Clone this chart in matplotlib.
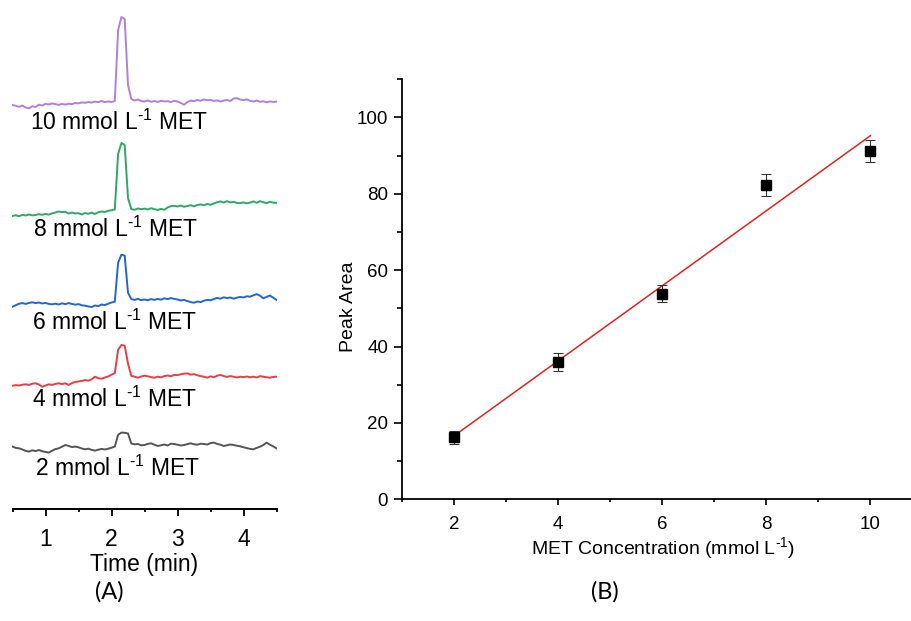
import numpy as np
import matplotlib.pyplot as plt
from matplotlib.ticker import MultipleLocator

plt.rcParams['font.family'] = 'Liberation Sans'
plt.rcParams['mathtext.fontset'] = 'custom'
plt.rcParams['mathtext.rm'] = 'Liberation Sans'
plt.rcParams['mathtext.it'] = 'Liberation Sans:italic'

# ---- (A) electropherograms, one sample every 0.05 min from 0.5 to 4.5 min ----
time_min = np.linspace(0.5, 4.5, 81)

# detector signal (a.u.)
sig_2 = [1.7, 0.4, 0.0, -1.2, -2.6, -3.3, -2.0, -2.8, -1.7, -3.0,
         -3.6, -4.3, -2.4, -0.8, 0.0, 1.6, 3.3, 2.4, 1.2, 1.7,
         1.0, -0.2, -1.0, -0.4, -1.6, -2.3, -1.4, -0.6, -1.2, -0.4,
         0.6, 1.7, 13.5, 15.7, 15.5, 14.8, 4.8, 4.0, 4.3, 3.0,
         3.3, 4.4, 5.0, 3.6, 2.3, 3.0, 3.8, 2.8, 4.6, 4.3,
         3.6, 2.8, 3.3, 4.2, 5.0, 4.0, 3.6, 4.6, 4.3, 3.8,
         5.2, 5.7, 4.4, 3.6, 2.3, 3.0, 3.8, 3.3, 2.6, 2.0,
         1.0, 0.2, -0.6, -1.0, 0.4, 1.6, 3.3, 5.7, 3.6, 2.0,
         0.0]
sig_4 = [0.0, 0.6, 0.2, 1.0, 1.4, 0.8, 2.0, 2.4, 1.2, -1.0,
         0.2, 1.4, 0.8, 1.8, 2.4, 1.6, 2.4, 0.8, 2.6, 3.8,
         4.2, 4.8, 5.6, 5.0, 6.4, 9.0, 7.4, 7.0, 8.2, 9.2,
         11.0, 12.5, 36.0, 40.7, 40.0, 22.0, 9.8, 9.0, 8.0, 9.2,
         10.0, 9.4, 8.6, 8.0, 9.0, 8.4, 9.6, 10.2, 9.4, 10.8,
         10.6, 11.4, 12.0, 12.3, 11.0, 11.6, 10.4, 9.6, 9.0, 8.0,
         9.4, 8.4, 10.0, 10.7, 9.6, 8.8, 9.6, 9.0, 8.2, 9.0,
         8.6, 9.2, 8.4, 9.0, 8.2, 9.6, 9.0, 8.4, 8.0, 8.8,
         9.0]
sig_6 = [0.0, 1.5, 3.0, 3.6, 2.8, 3.8, 4.4, 3.6, 4.2, 3.2,
         3.8, 2.8, 2.4, 3.0, 2.2, 3.4, 2.6, 3.6, 2.8, 2.0,
         2.6, 1.4, 1.0, 0.2, -0.3, 1.2, 0.6, 2.2, 1.6, 3.0,
         4.2, 5.0, 44.0, 52.0, 51.0, 14.0, 7.6, 6.8, 7.8, 6.6,
         7.2, 6.4, 7.6, 6.8, 7.8, 7.0, 8.4, 7.6, 8.6, 7.8,
         7.2, 6.2, 6.8, 5.6, 4.6, 4.0, 5.2, 4.6, 6.0, 6.8,
         6.4, 7.6, 8.8, 8.0, 9.4, 8.6, 9.2, 8.0, 9.0, 9.8,
         9.2, 10.4, 10.0, 11.4, 12.6, 11.0, 8.4, 9.8, 11.2, 9.0,
         6.8]
sig_8 = [0.0, 0.8, -0.3, 1.2, 0.5, 1.5, 0.6, 1.0, 1.8, 1.2,
         2.0, 1.4, 2.6, 3.5, 4.5, 3.8, 4.2, 2.5, 3.4, 2.6,
         2.8, 1.5, 3.0, 2.2, 3.4, 2.0, 3.8, 4.5, 4.0, 5.2,
         5.8, 6.5, 62.0, 73.0, 71.0, 18.0, 7.0, 6.2, 7.5, 6.8,
         7.4, 6.5, 7.8, 6.8, 6.0, 7.2, 6.2, 8.5, 9.8, 10.2,
         9.5, 10.4, 9.2, 10.0, 10.8, 9.6, 11.0, 11.6, 10.8, 12.0,
         11.2, 12.5, 13.8, 14.6, 13.5, 14.8, 13.6, 14.2, 13.0, 12.8,
         13.6, 12.6, 13.4, 14.6, 13.2, 14.8, 13.8, 12.8, 14.2, 13.4,
         13.2]
sig_10 = [0.0, -0.8, -1.8, -0.5, -2.5, -3.3, -1.2, -2.0, 0.3, -0.6,
          1.2, 0.5, 1.6, 0.8, 0.2, 1.0, 0.4, 1.3, 0.9, 2.0,
          1.6, 2.6, 2.2, 3.0, 2.4, 3.4, 2.8, 4.0, 2.9, 3.5,
          3.0, 4.0, 75.0, 88.0, 86.0, 20.0, 6.0, 4.5, 5.5, 4.0,
          3.5, 4.6, 3.2, 4.0, 3.0, 4.2, 3.6, 3.8, 3.0, 4.2,
          3.5, 2.0, 0.3, 3.0, 4.4, 3.8, 5.0, 4.3, 5.5, 4.8,
          5.2, 4.0, 4.6, 3.5, 4.4, 5.0, 4.0, 6.5, 6.8, 5.5,
          4.8, 5.6, 4.2, 3.5, 4.5, 3.2, 3.8, 2.6, 3.6, 3.0,
          3.4]

signals = [sig_2, sig_4, sig_6, sig_8, sig_10]
trace_names = ['2', '4', '6', '8', '10']
trace_colors = ['#555555', '#EC3D47', '#2165D8', '#2FA865', '#B07FE2']

# stacking of the traces and their labels (layout only)
trace_offset = [60.7, 123.3, 202.3, 293.0, 404.0]
label_x = [0.84, 0.80, 0.80, 0.81, 0.77]
label_y = [33.0, 101.7, 179.0, 271.7, 379.0]

unit = r'mmol L$^{\text{-}1}$'

# ---- (B) calibration ----
conc = [2, 4, 6, 8, 10]
peak_area = [16.2, 35.9, 53.9, 82.4, 91.2]
peak_err = [1.6, 2.4, 2.2, 2.9, 2.9]

fig = plt.figure(figsize=(9.12, 6.21), dpi=100)

# panel A
axA = fig.add_axes([12.5 / 912, 112 / 621, 264 / 912, 504 / 621])
for sig, name, col, off, lx, ly in zip(signals, trace_names, trace_colors,
                                       trace_offset, label_x, label_y):
    axA.plot(time_min, np.array(sig) + off, color=col, lw=1.4)
    axA.text(lx, ly, name + ' ' + unit + ' MET', fontsize=16.5,
             ha='left', va='baseline')

axA.set_xlim(0.5, 4.5)
axA.set_ylim(0, 504)
for s in ['left', 'right', 'top']:
    axA.spines[s].set_visible(False)
axA.spines['bottom'].set_linewidth(1.4)
axA.set_yticks([])
axA.xaxis.set_major_locator(MultipleLocator(1))
axA.xaxis.set_minor_locator(MultipleLocator(0.5))
axA.tick_params(axis='x', which='major', direction='out', length=5, width=1.3,
                labelsize=16.5, pad=9)
axA.tick_params(axis='x', which='minor', direction='out', length=2.5, width=1.3)
axA.set_xlabel('Time (min)', fontsize=16.5)
axA.xaxis.label.set_va('center')
axA.xaxis.set_label_coords(0.5, -55 / 504)

# panel B
axB = fig.add_axes([402 / 912, (621 - 499.3) / 621, 510 / 912, 420 / 621])
coef = np.polyfit(conc, peak_area, 1)
fit_x = np.array([conc[0], conc[-1]])
axB.plot(fit_x, np.polyval(coef, fit_x), color='#E42222', lw=1.1, zorder=2)
axB.errorbar(conc, peak_area, yerr=peak_err, fmt='s', color='black', ms=6.5,
             ecolor='#333333', elinewidth=0.8, capsize=3.3, capthick=0.8, zorder=3)

axB.set_xlim(1, 10.8)
axB.set_ylim(0, 110)
axB.spines['right'].set_visible(False)
axB.spines['top'].set_visible(False)
for s in ['left', 'bottom']:
    axB.spines[s].set_linewidth(1.3)
axB.xaxis.set_major_locator(MultipleLocator(2))
axB.xaxis.set_minor_locator(MultipleLocator(1))
axB.yaxis.set_major_locator(MultipleLocator(20))
axB.yaxis.set_minor_locator(MultipleLocator(10))
axB.tick_params(axis='x', which='major', direction='out', length=4, width=1.2,
                labelsize=13.5, pad=8)
axB.tick_params(axis='x', which='minor', direction='out', length=2.5, width=1.2)
axB.tick_params(axis='y', which='major', direction='out', length=6, width=1.2,
                labelsize=13.5, pad=4)
axB.tick_params(axis='y', which='minor', direction='out', length=3.5, width=1.2)

axB.set_xlabel('MET Concentration (' + unit + ')', fontsize=14)
axB.xaxis.label.set_va('center')
axB.xaxis.set_label_coords(0.512, -48.7 / 420)
axB.set_ylabel('Peak Area', fontsize=14)
axB.yaxis.label.set_va('center')
axB.yaxis.set_label_coords(-53 / 510, 0.458)

fig.text(109 / 912, 1 - 592 / 621, '(A)', family='Lato', fontsize=17,
         ha='center', va='center')
fig.text(605 / 912, 1 - 592 / 621, '(B)', family='Lato', fontsize=17,
         ha='center', va='center')

fig.savefig('out.png', dpi=100)
